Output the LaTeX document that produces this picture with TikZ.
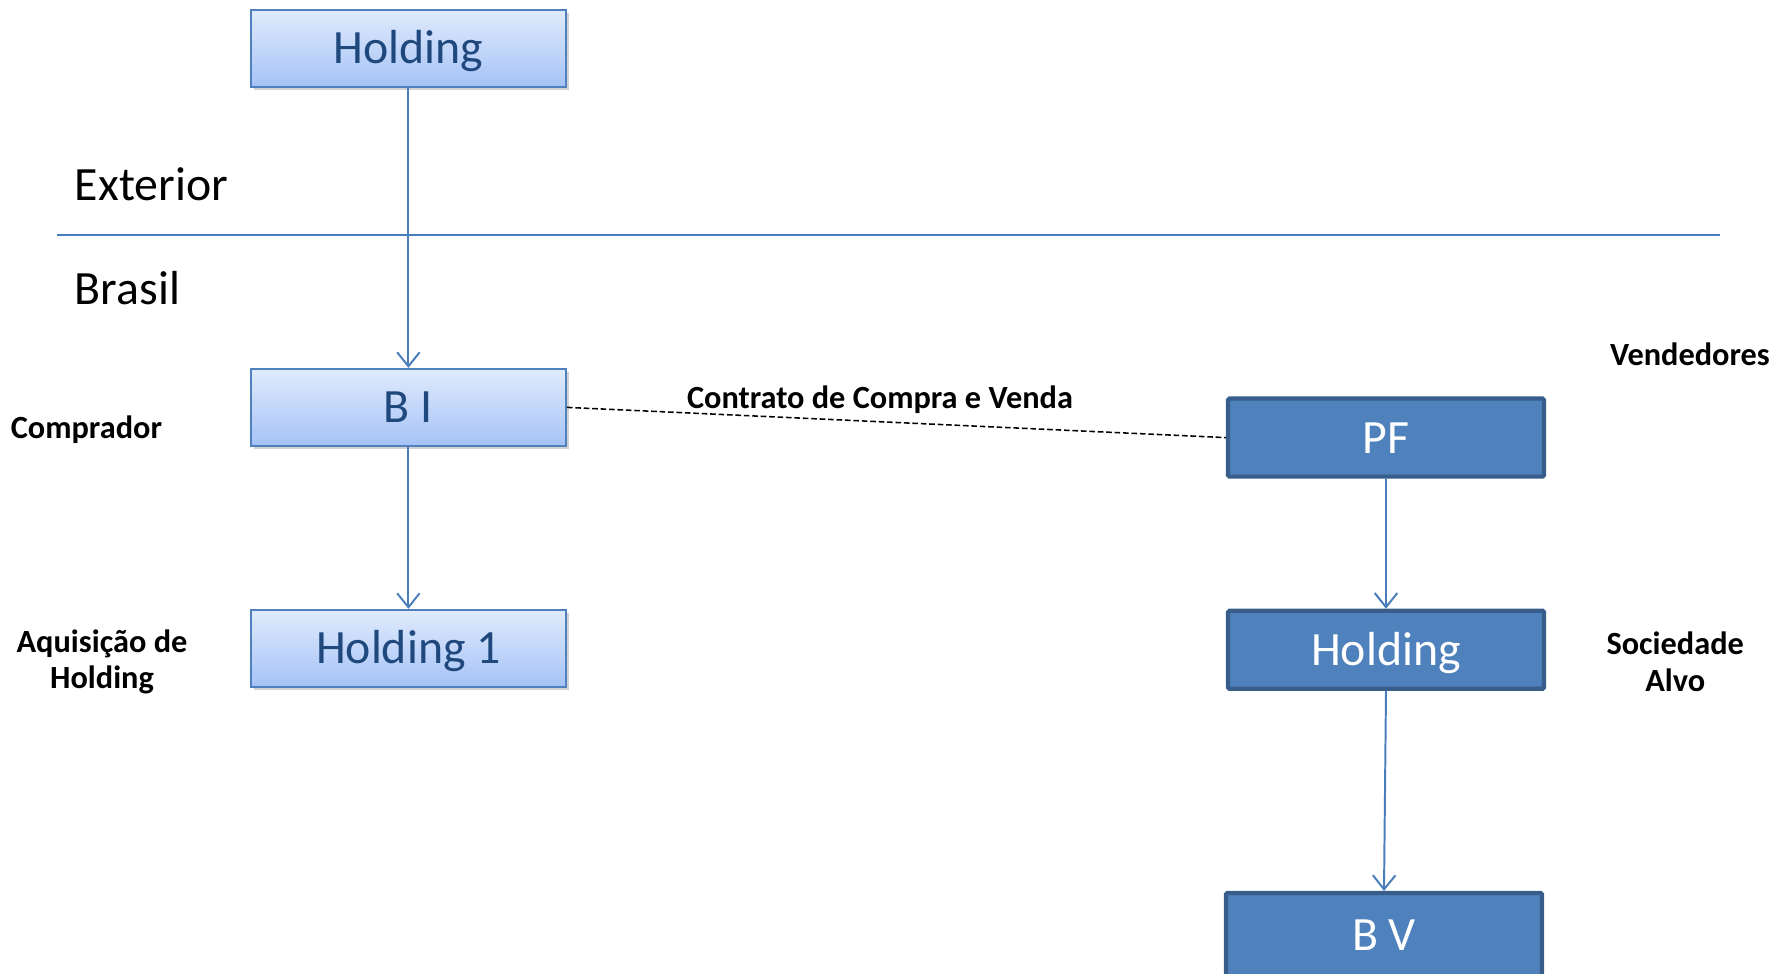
\documentclass[tikz,border=0pt]{standalone}
\usepackage{xcolor}
\usepackage{fontspec}
\setmainfont{Carlito}
\usepackage{tikz}
\usetikzlibrary{shapes,arrows.meta,positioning,shadows}

\definecolor{boxtop}{HTML}{E0EBFC}
\definecolor{boxbot}{HTML}{A5C2F7}
\definecolor{boxline}{HTML}{4F81BD}
\definecolor{boxtext}{HTML}{1F497D}
\definecolor{darkfill}{HTML}{4F81BD}
\definecolor{darkline}{HTML}{385D8A}
\definecolor{linkline}{HTML}{4A7EBB}

\begin{document}
\begin{tikzpicture}[
    node distance=4cm,
    entity/.style={rectangle, draw=boxline, line width=1.4pt, top color=boxtop, bottom color=boxbot,
        text=boxtext, minimum width=7.875cm, minimum height=1.925cm,
        text height=22pt, text depth=0pt,
        font=\fontsize{34}{38}\selectfont,
        drop shadow={opacity=0.35, shadow xshift=2pt, shadow yshift=-2pt}},
    seller/.style={rectangle, draw=darkline, line width=3pt, rounded corners=1pt, fill=darkfill,
        text=white, minimum width=7.9cm, minimum height=1.95cm,
        text height=22pt, text depth=0pt,
        font=\fontsize{34}{38}\selectfont},
    region/.style={anchor=west, font=\fontsize{34}{38}\selectfont},
    role/.style={align=center, font=\bfseries\fontsize{23}{26}\selectfont},
    owns/.style={-{Straight Barb[length=10pt, width=16pt]}, line width=1.4pt, draw=linkline}
]
    \useasboundingbox (0,0) rectangle (44.325,-24.325);

    % Buyer side
    \node[entity] (holdext) at (10.21,-1.21) {Holding};
    \node[entity, below=7.0cm of holdext] (bi) {B I};
    \node[entity, below=4.05cm of bi] (hold1) {Holding 1};

    % Seller side
    \node[seller] (pf) at (34.65,-10.94) {PF};
    \node[seller, below=3.25cm of pf] (holdalvo) {Holding};
    \node[seller, below=5.0cm of holdalvo, xshift=-0.05cm, minimum height=2.1cm] (bv) {B V};

    % Border line
    \coordinate (borderw) at (1.425,-5.875);
    \coordinate (bordere) at (43.0,-5.875);
    \draw[linkline, line width=1.2pt] (borderw) -- (bordere);
    \node[region] (exterior) at (1.75,-4.6) {Exterior};
    \node[region] (brasil) at (1.75,-7.2) {Brasil};

    % Roles
    \node[role] (comprador) at (2.16,-10.75) {Comprador};
    \node[role] (aquisicao) at (2.55,-16.55) {Aquisição de\\Holding};
    \node[role] (vendedores) at (42.25,-8.85) {Vendedores};
    \node[role] (alvo) at (41.88,-16.55) {Sociedade\\Alvo};

    % Relationships
    \draw[owns] (holdext) -- (bi);
    \draw[owns] (bi) -- (hold1);
    \draw[owns] (pf) -- (holdalvo);
    \draw[owns] (holdalvo.south) -- (bv.north);
    \draw[dash pattern=on 4pt off 2pt, line width=1.1pt] (bi.east) -- (pf.west);
    \node[role] (contrato) at (22.0,-10.0) {Contrato de Compra e Venda};
\end{tikzpicture}
\end{document}
